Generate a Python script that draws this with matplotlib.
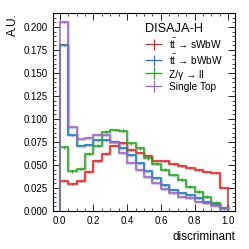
import numpy as np
import matplotlib
matplotlib.use("Agg")
import matplotlib.pyplot as plt
from matplotlib.ticker import MultipleLocator, FormatStrFormatter
from matplotlib.legend_handler import HandlerErrorbar
from matplotlib.container import ErrorbarContainer

plt.rcParams['font.family'] = ['Liberation Sans', 'DejaVu Sans']
plt.rcParams['mathtext.fontset'] = 'custom'
plt.rcParams['mathtext.rm'] = 'Liberation Sans'
plt.rcParams['mathtext.it'] = 'Liberation Sans'

# bin edges of the discriminant
edges = np.linspace(0.0, 1.0, 21)

labels = [r"$\mathrm{t\bar{t}}$ → sWbW",
          r"$\mathrm{t\bar{t}}$ → bWbW",
          "Z/γ → ll",
          "Single Top"]
colors = ["tab:red", "tab:blue", "tab:green", "tab:purple"]

tt_swbw = [0.033, 0.029, 0.032, 0.042, 0.054, 0.062, 0.071, 0.0736, 0.066, 0.0634,
           0.060, 0.0547, 0.054, 0.051, 0.049, 0.0464, 0.0446, 0.0428, 0.0417, 0.0253]
tt_bwbw = [0.180, 0.082, 0.071, 0.072, 0.077, 0.077, 0.075, 0.068, 0.061, 0.052,
           0.043, 0.0355, 0.028, 0.023, 0.020, 0.017, 0.014, 0.010, 0.0076, 0.0036]
zll = [0.069, 0.043, 0.046, 0.062, 0.071, 0.086, 0.088, 0.087, 0.0736, 0.068,
       0.057, 0.051, 0.045, 0.039, 0.034, 0.0264, 0.021, 0.0156, 0.009, 0.003]
single_top = [0.205, 0.091, 0.078, 0.079, 0.083, 0.082, 0.075, 0.063, 0.0525, 0.0446,
              0.0366, 0.030, 0.0236, 0.019, 0.0156, 0.0138, 0.010, 0.0083, 0.0058, 0.003]
# rough stat. uncertainties (only the Z sample shows them visibly)
errs = [0.0008, 0.0008, 0.0015, 0.0006]

fig = plt.figure(figsize=(2.49, 2.49), dpi=100)
ax = fig.add_axes([0.213, 0.153, 0.731, 0.795])

centers = 0.5 * (edges[:-1] + edges[1:])
for vals, col, lab, err in zip([tt_swbw, tt_bwbw, zll, single_top], colors, labels, errs):
    v = np.array(vals)
    y = np.append(v, v[-1])
    ax.step(edges, y, where="post", color=col, lw=2.4, alpha=0.3)
    ax.step(edges, y, where="post", color=col, lw=1.1)
    ax.vlines([edges[0], edges[-1]], 0, [v[0], v[-1]], color=col, lw=1.1)
    ax.errorbar(centers, v, yerr=err, fmt="none", ecolor=col, elinewidth=0.8)
    ax.errorbar([], [], xerr=1, yerr=1, fmt="none", ecolor=col, elinewidth=0.9, label=lab)

ax.set_xlim(-0.04, 1.04)
ax.set_ylim(0, 0.2152)
ax.xaxis.set_major_locator(MultipleLocator(0.2))
ax.xaxis.set_minor_locator(MultipleLocator(0.05))
ax.yaxis.set_major_locator(MultipleLocator(0.025))
ax.yaxis.set_minor_locator(MultipleLocator(0.005))
ax.tick_params(which="both", direction="in", top=True, right=True, labelsize=7)
ax.tick_params(which="major", length=5, width=0.6)
ax.tick_params(which="minor", length=2.5, width=0.5)
ax.xaxis.set_major_formatter(FormatStrFormatter("%.1f"))
ax.yaxis.set_major_formatter(FormatStrFormatter("%.3f"))

ax.set_xlabel("discriminant", fontsize=8.5, loc="right")
ax.set_ylabel("A.U.", fontsize=8.5, loc="top")

leg = ax.legend(title="DISAJA-H", fontsize=7.3, title_fontsize=9.2, frameon=False,
                loc="upper left", bbox_to_anchor=(0.505, 0.95), borderpad=0,
                borderaxespad=0, handlelength=1.7, handletextpad=0.65,
                handleheight=1.3, labelspacing=0.18,
                handler_map={ErrorbarContainer: HandlerErrorbar(xerr_size=0.85, yerr_size=0.55)})
leg._legend_box.align = "left"

fig.savefig("out.png", dpi=100)
